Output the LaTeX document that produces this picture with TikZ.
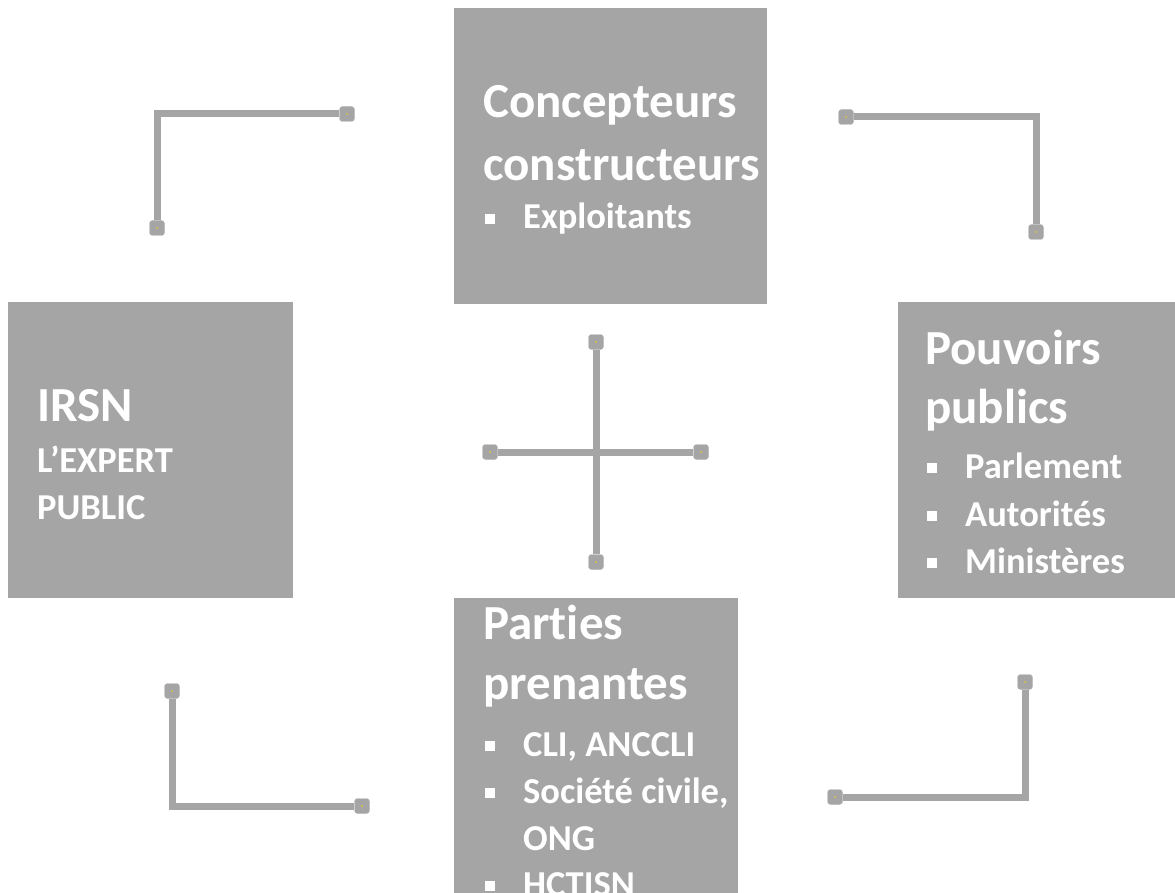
\documentclass[tikz,border=0pt]{standalone}
\usepackage{fontspec}
\setmainfont{Carlito}[Ligatures=NoCommon]
\definecolor{panelgray}{HTML}{A5A5A5}
\definecolor{dotyellow}{HTML}{E2C63A}
\tikzset{
panel/.style={fill=panelgray, anchor=north west, inner sep=0, outer sep=0},
heading/.style={anchor=base west, inner sep=0, text=white,
    font=\fontsize{49}{58}\bfseries\selectfont},
entry/.style={anchor=base west, inner sep=0, text=white,
    font=\fontsize{36.5}{44}\bfseries\selectfont},
handle/.style={fill=panelgray, draw=panelgray!80, rounded corners=3pt,
    minimum size=15pt, inner sep=0,
    path picture={\fill[dotyellow] (path picture bounding box.center) circle (1pt);}},
link/.style={draw=panelgray, line width=7pt}
}
\newcommand{\puce}{\makebox[40pt][l]{\hspace{2pt}\rule[5pt]{10pt}{10pt}}}

\begin{document}
\begin{tikzpicture}[x=1pt, y=-1pt]
	\useasboundingbox (0,0) rectangle (1175,893);
	\clip (0,0) rectangle (1175,893);
	% the four blocks
	\node[panel, minimum width=313, minimum height=296] (concept) at (454,8) {};
	\node[panel, minimum width=285, minimum height=296] (irsn) at (8,302) {};
	\node[panel, minimum width=290, minimum height=296] (pouvoirs) at (898,302) {};
	\node[panel, minimum width=284, minimum height=310] (parties) at (454,598) {};

	\node[heading] (c1) at (483,118) {Concepteurs};
	\node[heading] (c2) at (483,181) {constructeurs};
	\node[entry] (c3) at (483,229) {\puce Exploitants};

	\node[heading] (i1) at (37,421) {IRSN};
	\node[entry] (i2) at (37,472) {L’EXPERT};
	\node[entry] (i3) at (37,519) {PUBLIC};

	\node[heading] (p1) at (925,364) {Pouvoirs};
	\node[heading] (p2) at (925,423) {publics};
	\node[entry] (p3) at (925,478) {\puce Parlement};
	\node[entry] (p4) at (925,526) {\puce Autorités};
	\node[entry] (p5) at (925,573) {\puce Ministères};

	\node[heading] (s1) at (483,639) {Parties};
	\node[heading] (s2) at (483,699) {prenantes};
	\node[entry] (s3) at (483,756) {\puce CLI, ANCCLI};
	\node[entry] (s4) at (483,803) {\puce Société civile,};
	\node[entry] (s5) at (523,850) {ONG};
	\node[entry] (s6) at (483,896) {\puce HCTISN};

	% connectors
	\node[handle] (tla) at (347,114) {};
	\node[handle] (tlb) at (157,228) {};
	\node[handle] (tra) at (846,117) {};
	\node[handle] (trb) at (1036,232) {};
	\node[handle] (bla) at (172,691) {};
	\node[handle] (blb) at (362,806) {};
	\node[handle] (bra) at (1025,682) {};
	\node[handle] (brb) at (835,797) {};
	\node[handle] (xn) at (596,342) {};
	\node[handle] (xs) at (596,562) {};
	\node[handle] (xw) at (490,452) {};
	\node[handle] (xe) at (701,452) {};

	\draw[link] (tla) -| (tlb);
	\draw[link] (tra) -| (trb);
	\draw[link] (bla) |- (blb);
	\draw[link] (bra) |- (brb);
	\draw[link] (xn) -- (xs);
	\draw[link] (xw) -- (xe);
\end{tikzpicture}
\end{document}
